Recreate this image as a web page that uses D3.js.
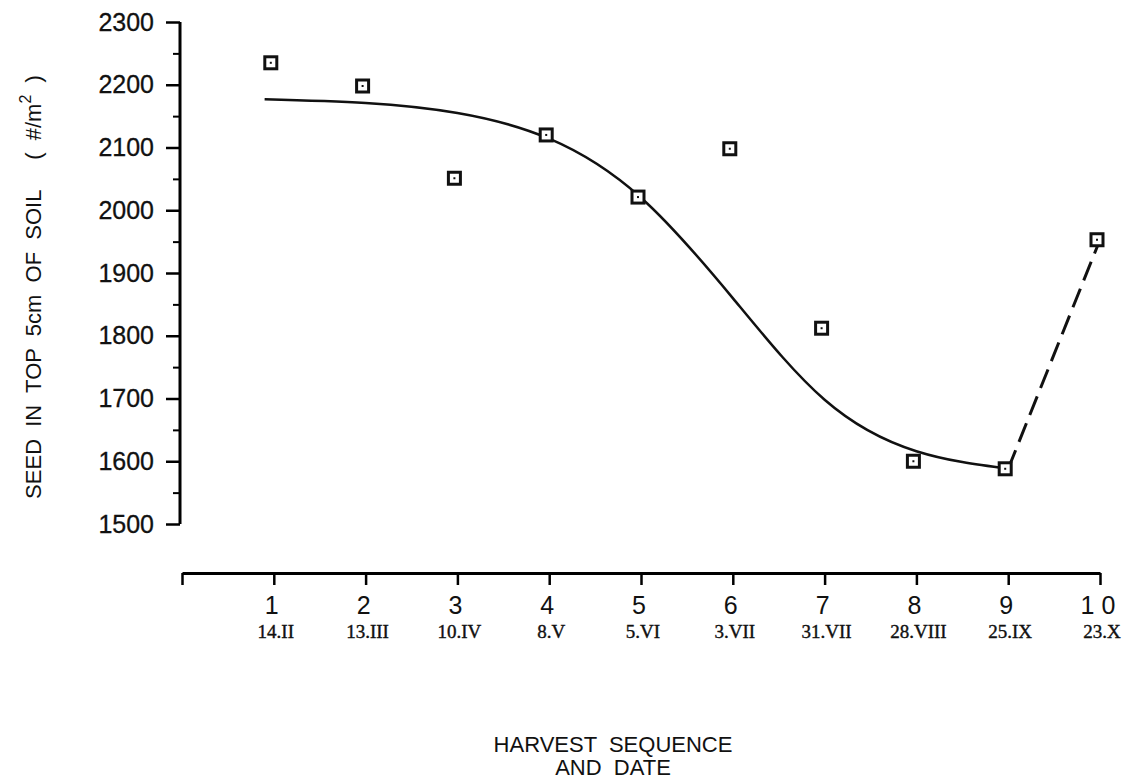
<html>
<head>
<title>Seed in top 5cm of soil</title>
<script type="text/javascript" src="https://cdn.jsdelivr.net/npm/d3@7/dist/d3.min.js"></script>
<style>
  * { margin: 0; padding: 0; }
  body { background: #fff; }
  svg text { fill: #111; }
  .sans { font-family: "Liberation Sans", Arial, Helvetica, sans-serif; }
  .serif { font-family: "Liberation Serif", "Times New Roman", serif; }
</style>
</head>
<body>
<div id="chart"></div>
<script type="text/javascript">
// harvest data
var harvest = [1, 2, 3, 4, 5, 6, 7, 8, 9, 10];
var harvestLabels = ['1', '2', '3', '4', '5', '6', '7', '8', '9', '1 0'];
var dates = ['14.II', '13.III', '10.IV', '8.V', '5.VI', '3.VII', '31.VII', '28.VIII', '25.IX', '23.X'];
var seed = [2235, 2198, 2051, 2120, 2021, 2098, 1812, 1600, 1588, 1953];

// fitted curve (harvest 1 to 9)
var fitX = [0.9, 2, 3, 4, 5, 6, 7, 8, 9];
var fitY = [2177, 2171, 2155, 2114, 2020, 1860, 1698, 1616, 1588];

var yMajor = [1500, 1600, 1700, 1800, 1900, 2000, 2100, 2200, 2300];
var yMinor = [1550, 1650, 1750, 1850, 1950, 2050, 2150, 2250];

var width = 1139, height = 782;
var svg = d3.select('#chart').append('svg')
    .attr('width', width)
    .attr('height', height);

var x = d3.scaleLinear().domain([0, 10]).range([182, 1100]);
var y = d3.scaleLinear().domain([1500, 2300]).range([524, 22]);

// y axis
var yAxis = svg.append('g')
    .attr('transform', 'translate(180,0)')
    .call(d3.axisLeft(y).tickValues(yMajor).tickSize(14).tickPadding(12).tickFormat(d3.format('d')));
yAxis.select('.domain').attr('d', 'M0,' + y(2300) + 'V' + y(1500)).attr('stroke-width', 3);
yAxis.selectAll('.tick line').attr('stroke-width', 2.5);
yAxis.selectAll('.tick text').attr('class', 'sans').style('font-size', '25px')
    .style('stroke', '#111').style('stroke-width', 0.3);

var yMinorAxis = svg.append('g')
    .attr('transform', 'translate(180,0)')
    .call(d3.axisLeft(y).tickValues(yMinor).tickSize(7).tickFormat(''));
yMinorAxis.select('.domain').remove();
yMinorAxis.selectAll('.tick line').attr('stroke-width', 2);

// x axis (drawn below, detached)
var xAxis = svg.append('g')
    .attr('transform', 'translate(0,573)')
    .call(d3.axisBottom(x).tickValues(d3.range(0, 11)).tickSize(12).tickSizeOuter(0).tickFormat(''));
xAxis.select('.domain').attr('stroke-width', 3);
xAxis.selectAll('.tick line').attr('stroke-width', 2.5);

svg.selectAll('.hnum')
    .data(harvest)
  .enter().append('text')
    .attr('class', 'hnum sans')
    .attr('x', function(d) { return x(d) - 2; })
    .attr('y', 614)
    .attr('text-anchor', 'middle')
    .style('font-size', '25px')
    .text(function(d, i) { return harvestLabels[i]; });

svg.selectAll('.hdate')
    .data(harvest)
  .enter().append('text')
    .attr('class', 'hdate serif')
    .attr('x', function(d) { return x(d) + 2; })
    .attr('y', 638)
    .attr('text-anchor', 'middle')
    .style('font-size', '19px')
    .style('stroke', '#111').style('stroke-width', 0.4)
    .text(function(d, i) { return dates[i]; });

// axis titles
svg.append('text')
    .attr('class', 'sans')
    .attr('x', 613).attr('y', 752)
    .attr('text-anchor', 'middle')
    .style('font-size', '22px')
    .style('white-space', 'pre')
    .text('HARVEST  SEQUENCE');
svg.append('text')
    .attr('class', 'sans')
    .attr('x', 613).attr('y', 775)
    .attr('text-anchor', 'middle')
    .style('font-size', '22px')
    .style('white-space', 'pre')
    .text('AND  DATE');

var ylab = svg.append('text')
    .attr('class', 'sans')
    .attr('transform', 'translate(41,287) rotate(-90)')
    .attr('text-anchor', 'middle')
    .style('font-size', '22px')
    .style('white-space', 'pre');
ylab.append('tspan').text('SEED  IN  TOP  5cm  OF  SOIL     (  #/m');
ylab.append('tspan').attr('dy', -10).style('font-size', '16px').text('2');
ylab.append('tspan').attr('dy', 10).text('  )');

// fitted curve
var fit = fitX.map(function(d, i) { return [d, fitY[i]]; });
svg.append('path')
    .datum(fit)
    .attr('fill', 'none')
    .attr('stroke', '#111')
    .attr('stroke-width', 2.5)
    .attr('d', d3.line()
        .x(function(d) { return x(d[0]); })
        .y(function(d) { return y(d[1]); })
        .curve(d3.curveNatural));

// dashed segment 9 -> 10
svg.append('path')
    .datum([[harvest[8], seed[8]], [harvest[9], seed[9]]])
    .attr('fill', 'none')
    .attr('stroke', '#111')
    .attr('stroke-width', 3)
    .attr('stroke-dasharray', '20,9')
    .attr('d', d3.line()
        .x(function(d) { return x(d[0]); })
        .y(function(d) { return y(d[1]); }));

// point markers
var pts = harvest.map(function(d, i) { return {h: d, v: seed[i]}; });
var m = svg.selectAll('.pt')
    .data(pts)
  .enter().append('g')
    .attr('class', 'pt')
    .attr('transform', function(d) { return 'translate(' + (x(d.h) - 3) + ',' + y(d.v) + ')'; });
m.append('rect')
    .attr('x', -6).attr('y', -6)
    .attr('width', 12).attr('height', 12)
    .attr('fill', '#fff')
    .attr('stroke', '#111')
    .attr('stroke-width', 3);
m.append('rect')
    .attr('x', -1).attr('y', -1)
    .attr('width', 2).attr('height', 2)
    .attr('fill', '#111');
</script>
</body>
</html>
